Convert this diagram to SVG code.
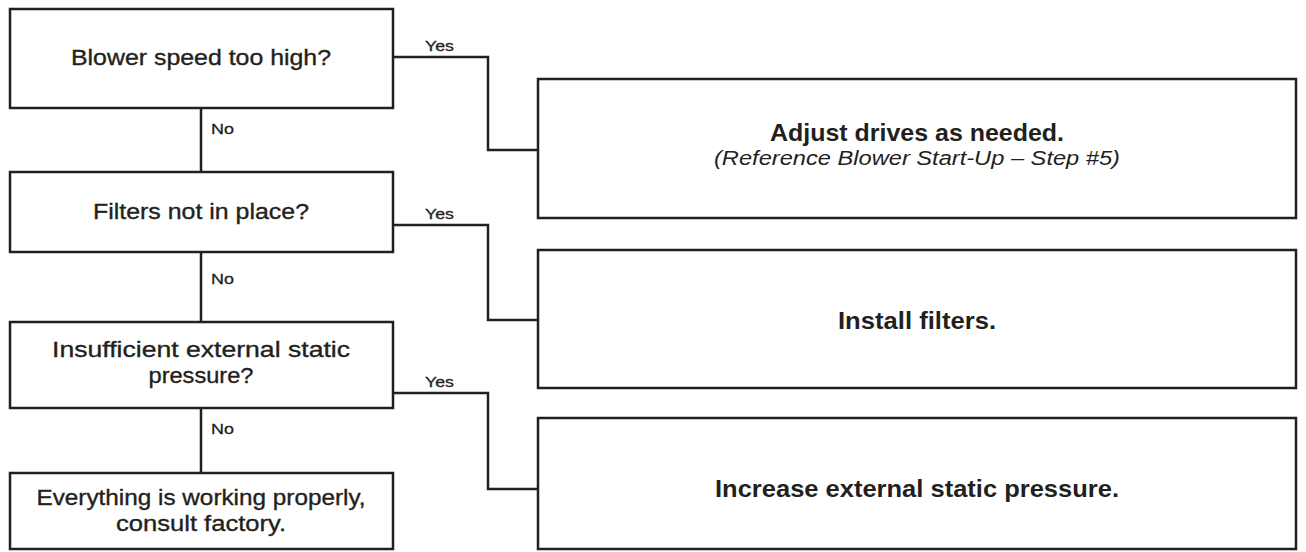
<svg xmlns="http://www.w3.org/2000/svg" width="1306" height="552" viewBox="0 0 1306 552">
<style>
.box{fill:#ffffff;stroke:#231f20;stroke-width:2.5}
.conn{fill:none;stroke:#231f20;stroke-width:2.5}
.q{font-family:"Liberation Sans",Arial,sans-serif;font-size:22px;fill:#231f20;stroke:#231f20;stroke-width:0.35;text-anchor:middle}
.lbl{font-family:"Liberation Sans",Arial,sans-serif;font-size:15px;fill:#231f20;stroke:#231f20;stroke-width:0.3}
.act{font-family:"Liberation Sans",Arial,sans-serif;font-size:24px;font-weight:bold;fill:#231f20;text-anchor:middle}
.ref{font-family:"Liberation Sans",Arial,sans-serif;font-size:20px;font-style:italic;fill:#231f20;text-anchor:middle}
</style>
<rect width="1306" height="552" fill="#ffffff"/>
<g id="connectors">
<path class="conn" d="M201 108V172M201 252V322M201 408V473"/>
<path class="conn" d="M393 57H488V150H538"/>
<path class="conn" d="M393 225H488V320H538"/>
<path class="conn" d="M393 393H488V489H538"/>
<text class="lbl" x="211" y="134" textLength="23" lengthAdjust="spacingAndGlyphs">No</text>
<text class="lbl" x="211" y="284" textLength="23" lengthAdjust="spacingAndGlyphs">No</text>
<text class="lbl" x="211" y="434" textLength="23" lengthAdjust="spacingAndGlyphs">No</text>
<text class="lbl" x="425" y="51" textLength="29" lengthAdjust="spacingAndGlyphs">Yes</text>
<text class="lbl" x="425" y="219" textLength="29" lengthAdjust="spacingAndGlyphs">Yes</text>
<text class="lbl" x="425" y="387" textLength="29" lengthAdjust="spacingAndGlyphs">Yes</text>
</g>
<g id="q1">
<rect class="box" x="10" y="9" width="383" height="99"/>
<text class="q" x="201" y="65" textLength="260" lengthAdjust="spacingAndGlyphs">Blower speed too high?</text>
</g>
<g id="q2">
<rect class="box" x="10" y="172" width="383" height="80"/>
<text class="q" x="201" y="219" textLength="216" lengthAdjust="spacingAndGlyphs">Filters not in place?</text>
</g>
<g id="q3">
<rect class="box" x="10" y="322" width="383" height="86"/>
<text class="q" x="201" y="357" textLength="298" lengthAdjust="spacingAndGlyphs">Insufficient external static</text>
<text class="q" x="201" y="383" textLength="105" lengthAdjust="spacingAndGlyphs">pressure?</text>
</g>
<g id="end">
<rect class="box" x="10" y="473" width="383" height="76"/>
<text class="q" x="201" y="505" textLength="329" lengthAdjust="spacingAndGlyphs">Everything is working properly,</text>
<text class="q" x="201" y="531" textLength="170" lengthAdjust="spacingAndGlyphs">consult factory.</text>
</g>
<g id="a1">
<rect class="box" x="538" y="79" width="758" height="139"/>
<text class="act" x="917" y="141" textLength="294" lengthAdjust="spacingAndGlyphs">Adjust drives as needed.</text>
<text class="ref" x="917" y="165" textLength="406" lengthAdjust="spacingAndGlyphs">(Reference Blower Start-Up – Step #5)</text>
</g>
<g id="a2">
<rect class="box" x="538" y="250" width="758" height="138"/>
<text class="act" x="917" y="329" textLength="158" lengthAdjust="spacingAndGlyphs">Install filters.</text>
</g>
<g id="a3">
<rect class="box" x="538" y="418" width="758" height="131"/>
<text class="act" x="917" y="497" textLength="404" lengthAdjust="spacingAndGlyphs">Increase external static pressure.</text>
</g>
</svg>
